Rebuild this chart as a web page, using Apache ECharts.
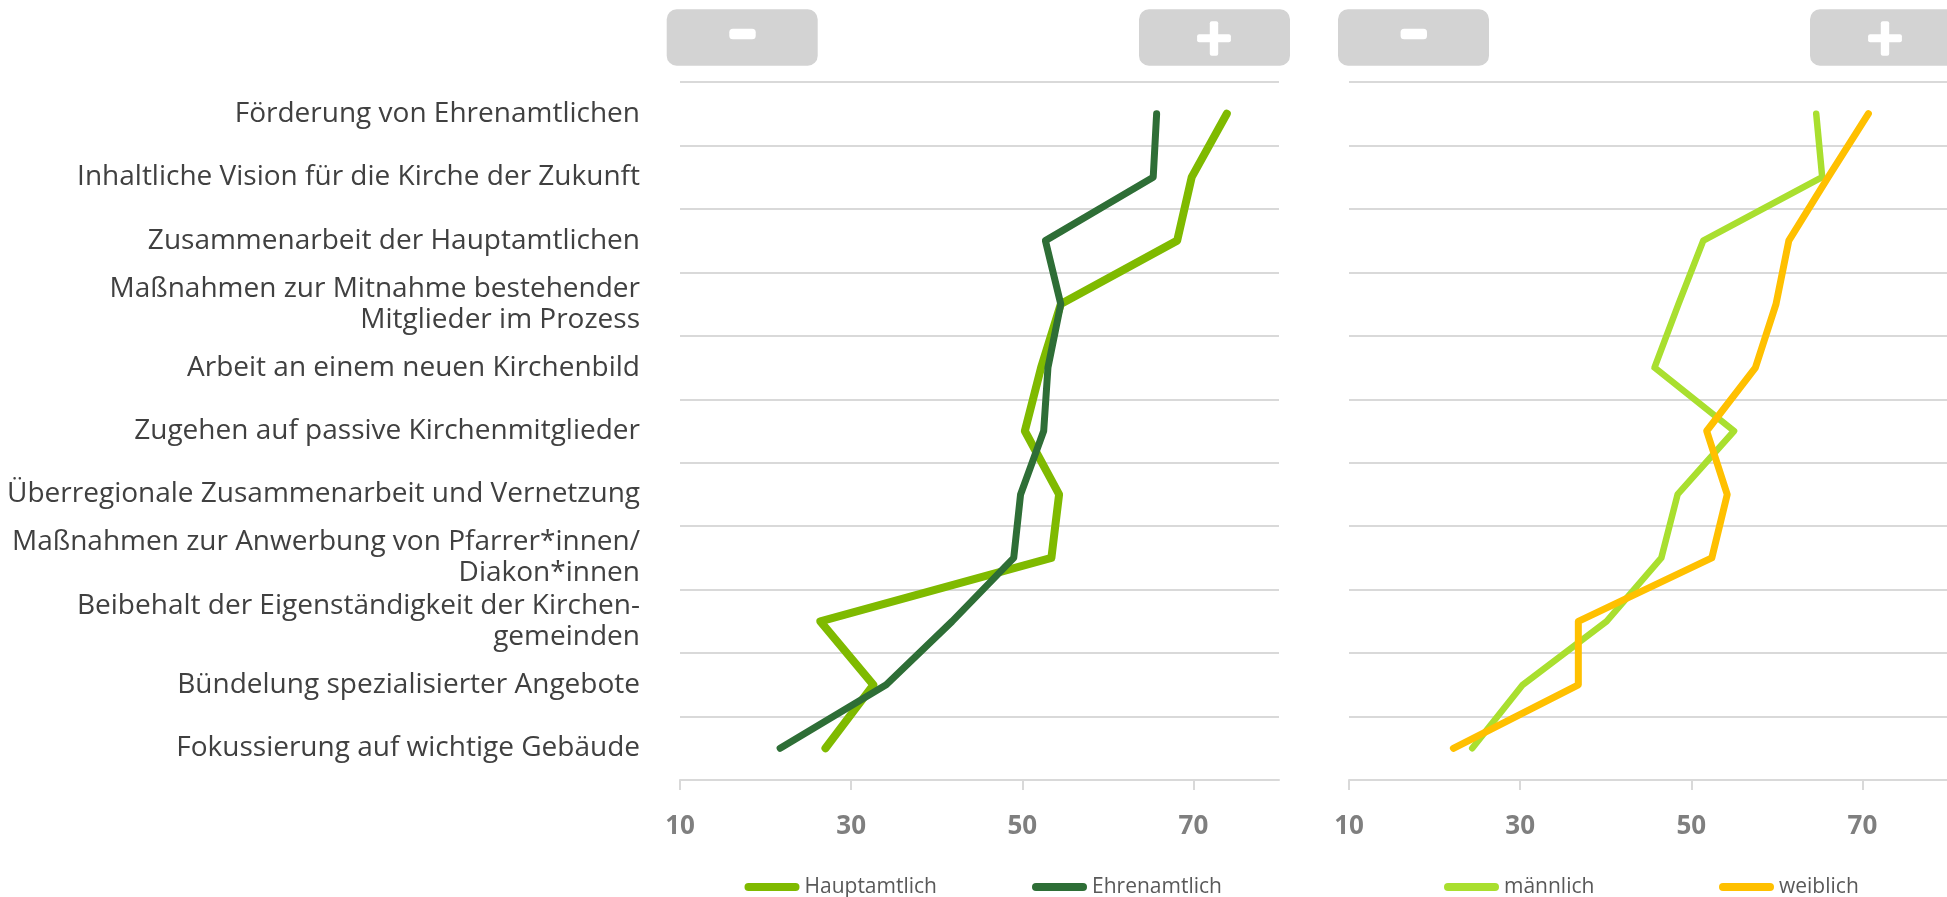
<!DOCTYPE html>
<html>
<head>
<meta charset="utf-8">
<script src="https://cdn.jsdelivr.net/npm/echarts@6/dist/echarts.min.js"></script>
<style>
html,body{margin:0;padding:0;background:#fff;}
#chart{width:1947px;height:897px;}
</style>
</head>
<body>
<div id="chart"></div>
<script>
// ---- data ----
var categories = [
  "Förderung von Ehrenamtlichen",
  "Inhaltliche Vision für die Kirche der Zukunft",
  "Zusammenarbeit der Hauptamtlichen",
  "Maßnahmen zur Mitnahme bestehender\nMitglieder im Prozess",
  "Arbeit an einem neuen Kirchenbild",
  "Zugehen auf passive Kirchenmitglieder",
  "Überregionale Zusammenarbeit und Vernetzung",
  "Maßnahmen zur Anwerbung von Pfarrer*innen/\nDiakon*innen",
  "Beibehalt der Eigenständigkeit der Kirchen-\ngemeinden",
  "Bündelung spezialisierter Angebote",
  "Fokussierung auf wichtige Gebäude"
];
var hauptamtlich = [73.9, 69.8, 68.1, 54.5, 52.2, 50.3, 54.3, 53.4, 26.4, 32.6, 27.0];
var ehrenamtlich = [65.7, 65.3, 52.7, 54.5, 53.0, 52.5, 49.8, 49.0, 41.8, 34.1, 21.7];
var maennlich    = [64.6, 65.3, 51.4, 48.5, 45.7, 55.0, 48.4, 46.5, 40.1, 30.3, 24.4];
var weiblich     = [70.7, 66.0, 61.4, 59.9, 57.5, 51.8, 54.2, 52.4, 36.8, 36.8, 22.2];
var xTicks = [10, 30, 50, 70];
var xMin = 10, xMax = 80;
var seriesNames = ["Hauptamtlich", "Ehrenamtlich", "männlich", "weiblich"];

// ---- styling ----
var FONT = "'Open Sans', 'Noto Sans', sans-serif";
var GRID_LINE = '#D9D9D9';
var colors = ['#7FBA00', '#2E6E36', '#A9DF2F', '#FFC000'];
var widths = [8, 7, 6.5, 7];
var capsule = 'path://M4,0H51A4,4,0,0,1,51,8H4A4,4,0,0,1,4,0Z';

function pairs(vals) { return vals.map(function (v, i) { return [v, categories[i]]; }); }

function xAxisFor(gi) {
  return {
    type: 'value', gridIndex: gi, min: xMin, max: xMax,
    axisLine: { show: true, lineStyle: { color: GRID_LINE, width: 2 } },
    axisTick: { show: true, length: 10, lineStyle: { color: GRID_LINE, width: 2 }, customValues: xTicks },
    axisLabel: { show: true, customValues: xTicks, margin: 34, color: '#7F7F7F', fontSize: 26, fontWeight: 'bold', fontFamily: FONT },
    splitLine: { show: false }
  };
}
function yAxisFor(gi, showLabels) {
  return {
    type: 'category', gridIndex: gi, data: categories, inverse: true, boundaryGap: true,
    axisLine: { show: false }, axisTick: { show: false },
    axisLabel: { show: showLabels, margin: 40, color: '#404040', fontSize: 28, lineHeight: 31, fontFamily: FONT, align: 'right', padding: [0, 0, 7, 0] },
    splitLine: { show: true, lineStyle: { color: GRID_LINE, width: 2 } }
  };
}
function lineSeries(idx, vals, gi) {
  return {
    name: seriesNames[idx], type: 'line', xAxisIndex: gi, yAxisIndex: gi,
    data: pairs(vals), symbol: 'none', smooth: false,
    color: colors[idx],
    lineStyle: { color: colors[idx], width: widths[idx], cap: 'round', join: 'round' },
    animation: false
  };
}
function legendFor(name, left) {
  return {
    data: [name], left: left, top: 876, padding: 0, icon: capsule,
    itemWidth: 55, itemHeight: 8, selectedMode: false,
    textStyle: { fontSize: 21, lineHeight: 22, color: '#595959', fontFamily: FONT }
  };
}
function button(x, plus) {
  var els = [{ type: 'rect', shape: { x: x, y: 9.3, width: 151, height: 56.4, r: 10 }, style: { fill: '#D3D3D3' } }];
  if (plus) {
    var cx = x + 75;
    els.push({ type: 'rect', shape: { x: cx - 4.2, y: 21.3, width: 8.4, height: 34.4, r: 2 }, style: { fill: '#fff' } });
    els.push({ type: 'rect', shape: { x: cx - 16.9, y: 34.3, width: 33.8, height: 8, r: 2 }, style: { fill: '#fff' } });
  } else {
    var cx2 = x + 75.8;
    els.push({ type: 'rect', shape: { x: cx2 - 13.2, y: 28.7, width: 26.4, height: 10.6, r: 3.5 }, style: { fill: '#fff' } });
  }
  return els;
}

var chart = echarts.init(document.getElementById('chart'), null, { renderer: 'canvas' });
var graphics = [].concat(button(666.7, false), button(1139, true), button(1338, false), button(1810, true));

chart.setOption({
  backgroundColor: '#fff',
  animation: false,
  grid: [
    { left: 680, top: 82, width: 599, height: 698, containLabel: false, outerBoundsMode: 'none' },
    { left: 1349, top: 82, width: 599, height: 698, containLabel: false, outerBoundsMode: 'none' }
  ],
  xAxis: [xAxisFor(0), xAxisFor(1)],
  yAxis: [yAxisFor(0, true), yAxisFor(1, false)],
  legend: [
    legendFor('Hauptamtlich', 744.5),
    legendFor('Ehrenamtlich', 1032),
    legendFor('männlich', 1444),
    legendFor('weiblich', 1719)
  ],
  graphic: graphics,
  series: [
    lineSeries(0, hauptamtlich, 0),
    lineSeries(1, ehrenamtlich, 0),
    lineSeries(2, maennlich, 1),
    lineSeries(3, weiblich, 1)
  ]
});
</script>
</body>
</html>
